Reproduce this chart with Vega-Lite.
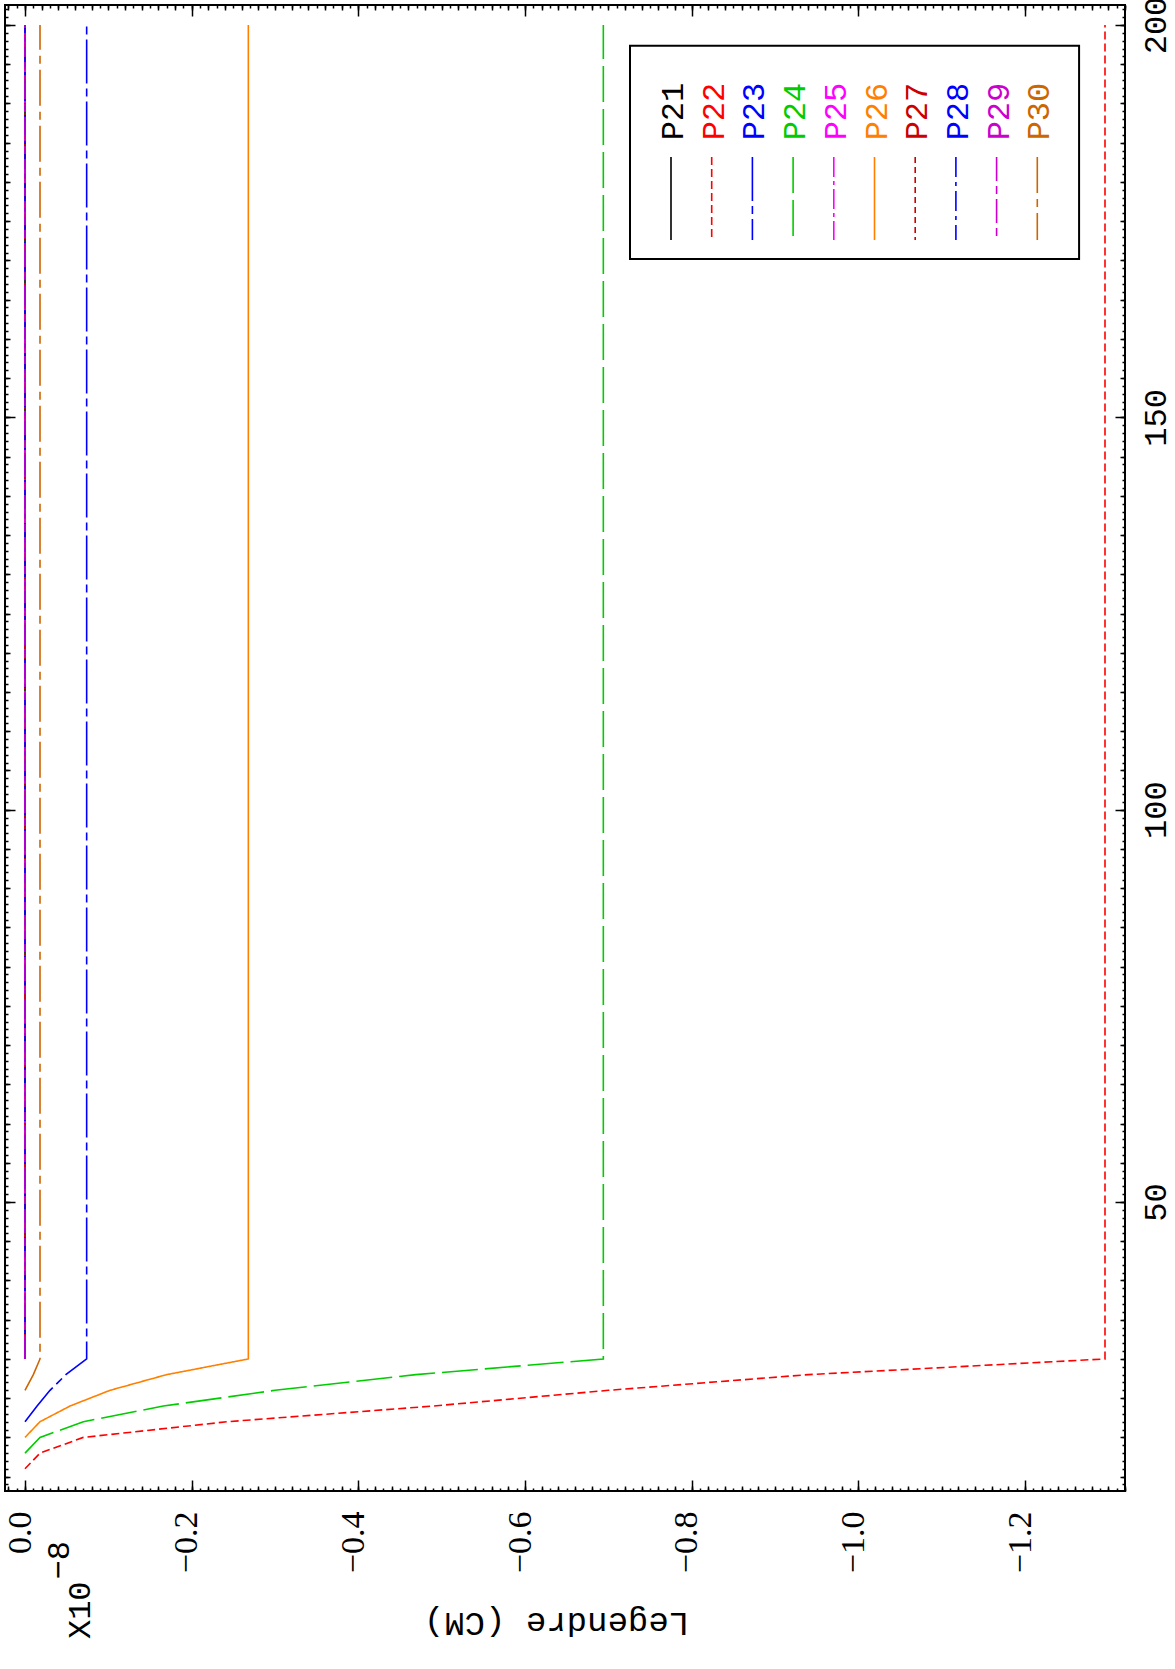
{
  "$schema": "https://vega.github.io/schema/vega-lite/v6.json",
  "width": 1120,
  "height": 1486,
  "autosize": "none",
  "padding": {"left": 5, "top": 5, "right": 50, "bottom": 178},
  "background": "white",
  "config": {
    "view": {"stroke": "black", "strokeWidth": 2},
    "font": "Liberation Mono",
    "axis": {"grid": false, "domain": false, "tickColor": "black", "tickWidth": 1.5, "labelFont": "Liberation Mono", "labelColor": "black"}
  },
  "datasets": {
    "curves": [
      {"s": "P21", "d": 30, "v": 0}, {"s": "P21", "d": 200, "v": 0},
      {"s": "P22", "d": 16, "v": 0}, {"s": "P22", "d": 18, "v": -0.018}, {"s": "P22", "d": 20, "v": -0.070}, {"s": "P22", "d": 22, "v": -0.243}, {"s": "P22", "d": 24, "v": -0.490}, {"s": "P22", "d": 26, "v": -0.700}, {"s": "P22", "d": 28, "v": -0.940}, {"s": "P22", "d": 30, "v": -1.296}, {"s": "P22", "d": 200, "v": -1.296},
      {"s": "P23", "d": 22, "v": 0}, {"s": "P23", "d": 24, "v": -0.0145}, {"s": "P23", "d": 26, "v": -0.030}, {"s": "P23", "d": 28, "v": -0.049}, {"s": "P23", "d": 30, "v": -0.074}, {"s": "P23", "d": 200, "v": -0.074},
      {"s": "P24", "d": 18, "v": 0}, {"s": "P24", "d": 20, "v": -0.018}, {"s": "P24", "d": 22, "v": -0.070}, {"s": "P24", "d": 24, "v": -0.166}, {"s": "P24", "d": 26, "v": -0.300}, {"s": "P24", "d": 28, "v": -0.469}, {"s": "P24", "d": 30, "v": -0.694}, {"s": "P24", "d": 200, "v": -0.694},
      {"s": "P25", "d": 30, "v": 0}, {"s": "P25", "d": 200, "v": 0},
      {"s": "P26", "d": 20, "v": 0}, {"s": "P26", "d": 22, "v": -0.018}, {"s": "P26", "d": 24, "v": -0.054}, {"s": "P26", "d": 26, "v": -0.102}, {"s": "P26", "d": 28, "v": -0.170}, {"s": "P26", "d": 30, "v": -0.268}, {"s": "P26", "d": 200, "v": -0.268},
      {"s": "P27", "d": 30, "v": 0}, {"s": "P27", "d": 200, "v": 0},
      {"s": "P28", "d": 30, "v": 0}, {"s": "P28", "d": 200, "v": 0},
      {"s": "P29", "d": 30, "v": 0}, {"s": "P29", "d": 200, "v": 0},
      {"s": "P30", "d": 26, "v": 0}, {"s": "P30", "d": 28, "v": -0.010}, {"s": "P30", "d": 30, "v": -0.018}, {"s": "P30", "d": 200, "v": -0.018}
    ],
    "names": [
      {"s": "P21"}, {"s": "P22"}, {"s": "P23"}, {"s": "P24"}, {"s": "P25"},
      {"s": "P26"}, {"s": "P27"}, {"s": "P28"}, {"s": "P29"}, {"s": "P30"}
    ],
    "one": [{"k": 1}]
  },
  "layer": [
    {
      "layer": [
        {
          "data": {"name": "one"},
          "mark": {"type": "rect", "fill": "white", "stroke": "black", "strokeWidth": 2},
          "encoding": {
            "x": {"datum": -0.726, "type": "quantitative", "axis": null},
            "x2": {"datum": -1.2649},
            "y": {"datum": 197.36, "type": "quantitative", "axis": null},
            "y2": {"datum": 170.18}
          }
        },
        {
          "data": {"name": "curves"},
          "mark": {"type": "line", "strokeWidth": 1.6},
          "encoding": {
            "x": {
              "field": "v", "type": "quantitative",
              "scale": {"domain": [-1.32, 0.024], "reverse": true, "nice": false, "zero": false},
              "axis": {
                "orient": "bottom", "values": [0, -0.2, -0.4, -0.6, -0.8, -1.0, -1.2], "format": ".1f",
                "ticks": false, "domain": false, "grid": false, "labels": true,
                "labelAngle": 270, "labelAlign": "right", "labelBaseline": "alphabetic", "labelPadding": 20, "labelOffset": 5,
                "labelFont": "Liberation Serif", "labelFontSize": 34, "labelFlush": false, "labelOverlap": false, "labelBound": false,
                "title": "Legendre (CM)", "titleFont": "Liberation Mono", "titleFontSize": 34, "titleFontWeight": "normal",
                "titleAngle": 180, "titleX": 551, "titleY": 121, "titleAlign": "center", "titleBaseline": "alphabetic", "titleColor": "black"
              }
            },
            "y": {
              "field": "d", "type": "quantitative",
              "scale": {"domain": [13.17, 202.55], "nice": false, "zero": false},
              "axis": {
                "orient": "right", "values": [50, 100, 150, 200], "ticks": false, "domain": false, "grid": false, "labels": true,
                "labelAngle": 270, "labelAlign": "center", "labelBaseline": "alphabetic", "labelPadding": 40,
                "labelFontSize": 32, "labelFlush": false, "labelOverlap": false, "labelBound": false, "title": null
              }
            },
            "color": {
              "field": "s", "type": "nominal",
              "scale": {
                "domain": ["P21", "P22", "P23", "P24", "P25", "P26", "P27", "P28", "P29", "P30"],
                "range": ["#000000", "#ff0000", "#0000ff", "#00cc00", "#ff00ff", "#ff8000", "#cc0000", "#0000ff", "#cc00cc", "#cc6600"]
              },
              "legend": null
            },
            "strokeDash": {
              "field": "s", "type": "nominal",
              "scale": {
                "domain": ["P21", "P22", "P23", "P24", "P25", "P26", "P27", "P28", "P29", "P30"],
                "range": [[1, 0], [8, 4], [44, 5, 8, 5], [36, 7], [20, 4, 4, 4], [1, 0], [6, 4], [20, 5, 4, 5], [24, 5, 8, 5], [36, 6, 8, 6]]
              },
              "legend": null
            },
            "order": {"field": "d", "type": "quantitative"}
          }
        },
        {
          "data": {"name": "one"},
          "mark": {"type": "text", "angle": 270, "align": "left", "baseline": "alphabetic", "fontSize": 32, "font": "Liberation Mono", "color": "black"},
          "encoding": {
            "x": {"datum": -0.078, "type": "quantitative", "axis": null},
            "y": {"datum": -5.7, "type": "quantitative", "axis": null},
            "text": {"value": "X10"}
          }
        },
        {
          "data": {"name": "one"},
          "mark": {"type": "text", "angle": 270, "align": "left", "baseline": "alphabetic", "fontSize": 32, "font": "Liberation Mono", "color": "black"},
          "encoding": {
            "x": {"datum": -0.0528, "type": "quantitative", "axis": null},
            "y": {"datum": 1.9, "type": "quantitative", "axis": null},
            "text": {"value": "−8"}
          }
        },
        {
          "data": {"name": "one"},
          "mark": {"type": "point", "opacity": 0},
          "encoding": {
            "x": {"datum": 0, "type": "quantitative", "axis": {"orient": "bottom", "values": [0, -0.2, -0.4, -0.6, -0.8, -1.0, -1.2], "tickSize": -11, "labels": false, "domain": false, "grid": false, "title": null}},
            "y": {"datum": 100, "type": "quantitative", "axis": {"orient": "right", "values": [50, 100, 150, 200], "tickSize": -10, "labels": false, "domain": false, "grid": false, "title": null}}
          }
        },
        {
          "data": {"name": "one"},
          "mark": {"type": "point", "opacity": 0},
          "encoding": {
            "x": {"datum": 0, "type": "quantitative", "axis": {"orient": "bottom", "tickCount": 67, "tickSize": -5, "labels": false, "domain": false, "grid": false, "title": null}},
            "y": {"datum": 100, "type": "quantitative", "axis": {"orient": "right", "tickCount": 38, "tickSize": -5, "labels": false, "domain": false, "grid": false, "title": null}}
          }
        },
        {
          "data": {"name": "one"},
          "mark": {"type": "point", "opacity": 0},
          "encoding": {
            "x": {"datum": 0, "type": "quantitative", "axis": {"orient": "bottom", "tickCount": 134, "tickSize": -3, "labels": false, "domain": false, "grid": false, "title": null}},
            "y": {"datum": 100, "type": "quantitative", "axis": {"orient": "right", "tickCount": 189, "tickSize": -3, "labels": false, "domain": false, "grid": false, "title": null}}
          }
        },
        {
          "data": {"name": "one"},
          "mark": {"type": "point", "opacity": 0},
          "encoding": {
            "x": {"datum": 0, "type": "quantitative", "axis": {"orient": "top", "values": [0, -0.2, -0.4, -0.6, -0.8, -1.0, -1.2], "tickSize": -11, "labels": false, "domain": false, "grid": false, "title": null}},
            "y": {"datum": 100, "type": "quantitative", "axis": {"orient": "left", "values": [50, 100, 150, 200], "tickSize": -10, "labels": false, "domain": false, "grid": false, "title": null}}
          }
        },
        {
          "data": {"name": "one"},
          "mark": {"type": "point", "opacity": 0},
          "encoding": {
            "x": {"datum": 0, "type": "quantitative", "axis": {"orient": "top", "tickCount": 67, "tickSize": -5, "labels": false, "domain": false, "grid": false, "title": null}},
            "y": {"datum": 100, "type": "quantitative", "axis": {"orient": "left", "tickCount": 38, "tickSize": -5, "labels": false, "domain": false, "grid": false, "title": null}}
          }
        },
        {
          "data": {"name": "one"},
          "mark": {"type": "point", "opacity": 0},
          "encoding": {
            "x": {"datum": 0, "type": "quantitative", "axis": {"orient": "top", "tickCount": 134, "tickSize": -3, "labels": false, "domain": false, "grid": false, "title": null}},
            "y": {"datum": 100, "type": "quantitative", "axis": {"orient": "left", "tickCount": 189, "tickSize": -3, "labels": false, "domain": false, "grid": false, "title": null}}
          }
        }
      ],
      "resolve": {"axis": {"x": "independent", "y": "independent"}}
    },
    {
      "data": {"name": "names"},
      "layer": [
        {
          "mark": {"type": "rule", "strokeWidth": 1.6},
          "encoding": {
            "x": {"field": "s", "type": "nominal", "scale": {"type": "point", "domain": ["P21", "P22", "P23", "P24", "P25", "P26", "P27", "P28", "P29", "P30"], "range": [666, 1032.3], "padding": 0}, "axis": null},
            "y": {"datum": 183.18, "type": "quantitative", "scale": {"domain": [13.17, 202.55], "nice": false, "zero": false}, "axis": null},
            "y2": {"datum": 172.6},
            "color": {"field": "s", "type": "nominal", "legend": null},
            "strokeDash": {"field": "s", "type": "nominal", "legend": null}
          }
        },
        {
          "mark": {"type": "text", "angle": 270, "align": "left", "baseline": "alphabetic", "dy": 12, "fontSize": 32, "font": "Liberation Mono"},
          "encoding": {
            "x": {"field": "s", "type": "nominal", "axis": null},
            "y": {"datum": 185.3, "type": "quantitative", "axis": null},
            "text": {"field": "s"},
            "color": {"field": "s", "type": "nominal", "legend": null}
          }
        }
      ]
    }
  ],
  "resolve": {"scale": {"x": "independent", "y": "independent"}, "axis": {"x": "independent", "y": "independent"}}
}
